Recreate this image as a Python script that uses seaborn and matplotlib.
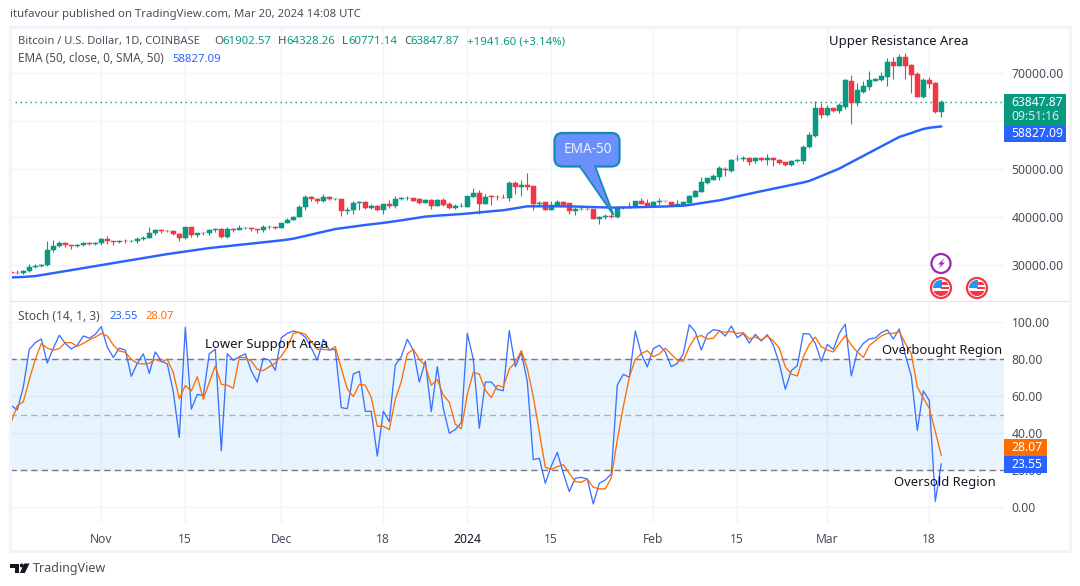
import matplotlib
matplotlib.use("Agg")
import matplotlib.pyplot as plt
import matplotlib.transforms as mtrans
from matplotlib.patches import Rectangle, Circle, Polygon, FancyBboxPatch
import numpy as np
import pandas as pd
import seaborn as sns

opens = [28520,28400,28320,28720,29680,29910,29990,33080,33920,34500,34150,33900,34090,34540,34490,34650,35430,34930,34730,35080,
 34950,35040,35420,35650,36700,37320,37130,37060,36490,35550,37880,36160,36650,36580,37390,37470,35760,37420,37290,37720,
 37790,37450,37240,37830,37900,37720,38690,39460,39970,41980,44080,43770,43290,44180,43720,43790,41240,41450,42880,43100,
 41940,42240,41390,42700,42220,43820,43900,43990,43800,43000,43610,42360,43610,42780,41940,42290,42150,44240,45070,42780,
 44370,44240,44000,43890,47150,46180,46740,46530,42780,43190,41530,42360,43190,42990,41180,41650,41760,41670,39510,40000,
 40140,39930,41900,42010,42010,43400,42990,42360,43120,43330,43190,42500,42570,42990,44240,45280,47150,47780,48260,50000,
 49580,51980,52080,52290,51600,52360,51940,52360,51940,51390,50760,51670,51670,54510,56940,62570,61110,62570,61940,62920,
 68330,63610,65970,66940,68330,68400,69030,72150,71320,73190,71530,69650,65000,68400,67780,61902.57]
highs = [28650,28900,28950,30280,30300,30200,35000,35200,35100,34800,34250,34450,34750,34850,34720,35580,35980,34950,35280,35380,
 35280,35900,35990,37950,37520,37420,37250,37400,36770,37980,37980,36740,36850,37500,37760,37650,37860,37640,38420,37840,
 37830,37580,38380,38420,38150,38840,39700,40200,42400,44490,44290,44050,44700,44370,44050,43800,42100,43430,43420,43250,
 42700,42400,42770,43580,44300,44230,44390,44020,44030,43800,43640,43700,44030,43200,42800,42990,44440,46110,45690,44790,
 44650,44510,44790,47430,47570,47780,49240,46530,43330,43190,43400,43610,43400,42990,42080,42080,41940,41670,40200,40690,
 40560,42360,42360,43060,43400,43960,43820,43290,43850,43400,43190,43610,43330,44650,45700,48400,48200,48900,50500,50320,
 52000,52850,52700,52500,52560,52560,53190,52400,52150,51460,51800,52150,55070,57710,64170,63750,63330,62700,63600,68610,
 69440,67780,68200,70350,68820,70140,72990,73190,73890,74030,71740,70070,68960,69030,68120,64328.26]
lows = [28150,28100,28170,28650,29500,29700,29880,32800,33700,33700,33350,33850,34050,34100,34100,34150,34350,34100,34570,34550,
 34720,34520,35250,35550,36350,36700,36780,36350,35100,35370,35880,35860,36180,36200,36820,35700,35630,36870,37250,37600,
 37150,36720,36880,37600,37500,37620,38650,39280,39970,41420,43400,42820,43080,43600,43560,40230,40680,40630,41450,41660,
 41700,41200,40530,41830,41850,43470,43630,43350,42780,42850,41740,42220,42360,41600,41740,42150,42150,44200,40700,42700,
 42570,43610,43890,43400,44860,44440,45690,41530,42500,41530,41530,42220,42290,40700,40350,41530,41530,39510,38610,39510,
 39720,39790,41600,41870,41800,42700,42360,42220,42530,43120,42290,42360,42500,42990,44100,45200,46950,47700,47700,48470,
 49450,51600,51740,50760,51320,51730,50900,50690,50970,50690,50690,51390,51110,54300,56730,60560,60900,61730,61670,62360,
 59240,63060,65830,66320,68190,68330,67150,68610,71320,68610,65690,64860,64650,66730,61530,60771.14]
closes = [28400,28320,28720,29680,29910,29990,33080,33920,34500,34150,33900,34090,34540,34490,34650,35430,34930,34730,35080,34950,
 35040,35420,35650,36700,37320,37130,37060,36490,35550,37880,36160,36600,36580,37390,37470,35760,37420,37290,37720,37790,
 37450,37240,37830,37850,37720,38690,39460,39970,41980,44080,43770,43290,44180,43720,43790,41240,41450,42880,43020,41940,
 42240,41390,42700,42220,43820,43900,43990,43400,43000,43540,42360,43610,42570,41940,42290,42360,44440,45070,42780,44240,
 44240,44100,43890,47150,46180,46740,46320,42780,42990,41530,42500,43190,42430,41180,41740,41740,41650,39510,40070,40140,
 40050,41940,42010,41920,43330,42780,42360,43120,43260,43230,42500,42710,43190,44370,45420,47360,48060,48470,50100,49780,
 51940,52080,52220,51460,52360,51800,52360,51800,51180,50760,51670,51800,54650,57080,62570,61110,62570,61940,63190,68470,
 63750,66320,67150,68400,68610,69240,72150,71320,73190,71390,69510,65000,68400,67640,61740,63847.87]
ema50 = [27430,27480,27540,27620,27720,27920,28130,28340,28540,28750,28960,29170,29380,29590,29800,30000,30210,30410,30620,30830,
 31040,31250,31450,31660,31870,32080,32290,32470,32650,32830,33010,33190,33360,33540,33670,33810,33940,34070,34210,34340,
 34470,34610,34740,34870,35010,35140,35300,35490,35780,36070,36350,36640,36930,37220,37500,37670,37850,38020,38200,38340,
 38480,38630,38780,38950,39100,39300,39500,39680,39880,40080,40190,40280,40370,40460,40530,40610,40720,40840,40960,41070,
 41190,41300,41400,41610,41830,42040,42220,42230,42240,42250,42240,42230,42220,42210,42180,42140,42100,42050,42000,41970,
 41950,41960,41980,42000,42030,42060,42090,42120,42150,42190,42240,42290,42350,42500,42700,42900,43090,43280,43450,43720,
 44000,44280,44560,44840,45100,45360,45610,45870,46130,46380,46640,46900,47180,47500,48000,48510,49030,49550,50070,50730,
 51390,52040,52700,53360,54010,54670,55330,55990,56640,57050,57450,57900,58300,58550,58700,58827.09]
stoch_k = [55,52.6,65,85.4,89,91,78,86,93,88.6,85.6,87.6,92.6,91.4,93.5,97.7,86.5,81,86,85,
 70.8,77.8,83,72.4,84,79,77.5,62.5,37.8,97.3,53,61,60.5,83,85.4,30.6,83,79.5,81.4,83,
 73.7,67.7,80.5,79.6,74,91.7,94,95.3,94.4,92,86,79.6,90.8,85,85.4,53.9,53.3,72,73.5,51.9,
 51.9,27.7,51.9,46.3,77,81.4,90.8,85,67.7,79,51.7,76,53.5,40,42,45.8,94,80,42.7,67.7,
 67.7,63.8,63,95.5,76,83.6,68,25.8,26.5,13,22.3,29.7,18.4,8.5,15.7,16.2,15.3,1.8,13,14.8,
 18,66,71.9,70.3,95.3,83,75.9,85.8,87.6,84,76,77.8,83,98.7,94.8,85,93.5,96,95.5,92.6,
 98,91.7,93.9,88.8,93.5,89.9,93.3,87.7,77.8,63.8,73.9,76.6,93.9,93.7,88.6,78.9,88,85.4,94,99,
 71,84,88.6,91,91.5,94.4,95.9,91,96.4,82.3,71,41.6,62.9,57.7,3.2,23.55]
stoch_d = [46.3,55,57,69,80,88.5,86,85,85.8,89,89,87,88.6,90.5,92,94,92.6,87.7,84.5,83.8,
 80,77.8,77.5,77.8,80,78.6,80,72.8,58.7,65.8,62.9,70.6,58.4,67.6,76.4,66.5,66,64.3,81,81,
 79,74.6,73.9,76,78,81.8,86.5,94,94.6,93.5,89.5,85.4,85.4,85,86.8,75,64,59.8,66.5,66,
 59.3,43.8,43.8,42,58.4,68,83,85.4,80,76.6,66,69,60.7,56.8,44.9,42.5,61,73,72,63.4,
 59.3,66,64.9,74.8,78.4,84.7,75,59.8,40.9,21.6,20.5,22,23,18.4,13.9,13.5,15.3,10.8,10,9.9,
 16,36.4,54.4,70.3,80,83,84.7,81.4,82.9,86,82.7,79.5,79,86.8,92,92.8,91,91.4,95.3,94.6,
 95,94,94.4,91,92,90.5,92.6,90,86,76,72,71,81.4,88,92,86.8,85,84,88.6,92.8,
 87.7,84,81,87.4,90,92.6,94,94,95,88.6,83,65,59,53.5,41,28.07]
price_ticks = [30000, 40000, 50000, 60000, 70000]
price_tick_labels = ["30000.00", "40000.00", "50000.00", "", "70000.00"]
stoch_ticks = [0, 20, 40, 60, 80, 100]
date_tick_bars = [15, 29, 45, 62, 76, 90, 107, 121, 136, 153]
date_tick_labels = ["Nov", "15", "Dec", "18", "2024", "15", "Feb", "15", "Mar", "18"]

W, H = 1080, 586
GREEN, RED, BLUE, ORANGE = "#089981", "#f23645", "#2962ff", "#ff6d00"
INK, SCALE, GRID = "#131722", "#4a4e5a", "#f0f3fa"
FONT = "Noto Sans"

sns.set_theme(style="white")
plt.rcParams["font.family"] = [FONT, "DejaVu Sans"]
plt.rcParams["axes.unicode_minus"] = False

df = pd.DataFrame({"bar": np.arange(len(closes)), "open": opens, "high": highs, "low": lows,
                   "close": closes, "ema": ema50, "k": stoch_k, "d": stoch_d})
df["colour"] = np.where(df["close"] >= df["open"], GREEN, RED)

fig = plt.figure(figsize=(W / 100, H / 100), dpi=100, facecolor="white")
PX = mtrans.Affine2D().scale(1, -1).translate(0, H)

def axes_px(x0, y0, x1, y1):
    return fig.add_axes([x0 / W, 1 - y1 / H, (x1 - x0) / W, (y1 - y0) / H])

def label(x, y, s, color=SCALE, size=8.2, ha="left", **kw):
    return fig.text(x / W, 1 - y / H, s, color=color, fontsize=size, ha=ha, va="center", **kw)

def add(p):
    p.set_transform(PX)
    fig.add_artist(p)
    return p

XLIM = ((10 - 11.3) / 6, (1004 - 11.3) / 6)
ax = axes_px(10, 28, 1004, 301)
ax2 = axes_px(10, 302, 1004, 522.5)

for a in (ax, ax2):
    a.set_xlim(*XLIM)
    a.set_facecolor("white")
    for s in a.spines.values():
        s.set_visible(False)
    a.yaxis.tick_right()
    a.grid(True, color=GRID, lw=1, zorder=0)
    a.set_axisbelow(True)
    a.set_xticks(date_tick_bars)

# Price pane
ax.set_ylim(70000 - (301 - 72.7) / 48.1 * 10000, 70000 + (72.7 - 28) / 48.1 * 10000)
ax.set_yticks(price_ticks, price_tick_labels)
ax.tick_params(axis="y", length=0, pad=5.5, labelsize=8.8, labelcolor=SCALE)
ax.tick_params(axis="x", length=0, labelbottom=False)
ax.axhline(closes[-1], color=GREEN, lw=1, ls=(0, (1, 2.6)), zorder=1)
ax.vlines(df["bar"], df["low"], df["high"], colors=df["colour"], lw=0.8, zorder=2)
ax.bar(df["bar"], (df["close"] - df["open"]).abs(), bottom=df[["open", "close"]].min(axis=1),
       width=0.76, color=df["colour"], edgecolor=df["colour"], linewidth=0.35, zorder=3)
sns.lineplot(data=df, x="bar", y="ema", ax=ax, color=BLUE, lw=1.75, estimator=None, zorder=4, legend=False)
ax.set_xlabel(""); ax.set_ylabel("")

# Stochastic pane
ax2.set_ylim((507.3 - 522.5) / 1.85, (507.3 - 302) / 1.85)
ax2.set_yticks(stoch_ticks, [f"{v:.2f}" for v in stoch_ticks])
ax2.tick_params(axis="y", length=0, pad=5.5, labelsize=8.8, labelcolor=SCALE)
ax2.set_xticks(date_tick_bars, date_tick_labels)
ax2.tick_params(axis="x", length=0, pad=7.5, labelsize=8.7, labelcolor=SCALE)
for t in ax2.get_xticklabels():
    if t.get_text() == "2024":
        t.set_fontweight("bold")
        t.set_color(INK)
ax2.axhspan(20, 80, color="#2196f3", alpha=0.1, lw=0, zorder=1)
ax2.axhline(80, color="#787b86", lw=1, ls=(0, (4.5, 3)), zorder=2)
ax2.axhline(50, color="#787b86", alpha=0.55, lw=1, ls=(0, (4.5, 3)), zorder=2)
ax2.axhline(20, color="#787b86", lw=1, ls=(0, (4.5, 3)), zorder=2)
sns.lineplot(data=df, x="bar", y="k", ax=ax2, color=BLUE, lw=0.95, estimator=None, zorder=3, legend=False, alpha=0.9)
sns.lineplot(data=df, x="bar", y="d", ax=ax2, color=ORANGE, lw=0.95, estimator=None, zorder=4, legend=False)
ax2.set_xlabel(""); ax2.set_ylabel("")

# Outer frame and pane separator
add(Rectangle((10, 27), 1060, 524, fill=False, edgecolor="#f0f3fa", lw=2.2))
add(Rectangle((10, 301), 1060, 1, facecolor="#e0e3eb", edgecolor="none"))

# Header and legends
label(10, 15, "itufavour published on TradingView.com, Mar 20, 2024 14:08 UTC", size=8.2)
label(18, 41.5, "Bitcoin / U.S. Dollar, 1D, COINBASE", size=8.05)
for x, s, c in [(214.3, "O", SCALE), (222.5, "61902.57", GREEN), (278.3, "H", SCALE), (286, "64328.26", GREEN),
                (341.7, "L", SCALE), (348, "60771.14", GREEN), (404, "C", SCALE), (410.7, "63847.87", GREEN),
                (466.7, "+1941.60 (+3.14%)", GREEN)]:
    label(x, 41.5, s, color=c, size=8.2)
label(18, 59, "EMA (50, close, 0, SMA, 50)", size=8.45)
label(172, 59, "58827.09", color=BLUE, size=8.2)
label(18, 316.5, "Stoch (14, 1, 3)", size=8.6)
label(109, 316.5, "23.55", color=BLUE, size=8.1)
label(145, 316.5, "28.07", color=ORANGE, size=8.1)

# Free text annotations
label(899, 41, "Upper Resistance Area", color=INK, size=9.45, ha="center")
label(266.5, 344.5, "Lower Support Area", color=INK, size=9.45, ha="center")
label(942, 350.5, "Overbought Region", color=INK, size=9.35, ha="center")
label(945, 482.5, "Oversold Region", color=INK, size=9.4, ha="center")

# Price scale tags
add(Rectangle((1004, 94), 61.7, 31.5, facecolor=GREEN, edgecolor="none", zorder=5))
add(Rectangle((1004, 125.5), 61.7, 16.3, facecolor=BLUE, edgecolor="none", zorder=5))
add(Rectangle((1004, 439), 43, 17, facecolor=ORANGE, edgecolor="none", zorder=5))
add(Rectangle((1004, 456), 43, 17, facecolor=BLUE, edgecolor="none", zorder=5))
tag = dict(color="white", size=8.7, zorder=6)
label(1011.5, 102.5, "63847.87", fontweight="bold", **tag)
label(1011.5, 117, "09:51:16", alpha=0.85, **tag)
label(1011.5, 133.5, "58827.09", fontweight="bold", **tag)
label(1011.5, 447.5, "28.07", fontweight="bold", **tag)
label(1011.5, 464.5, "23.55", fontweight="bold", **tag)

# Callout
add(FancyBboxPatch((554.5, 133), 65, 33.5, boxstyle="round,pad=0,rounding_size=8",
                   facecolor="#6a90fc", edgecolor="#1489b5", lw=1.6, zorder=6))
add(Polygon([(579.5, 166), (613.5, 215), (595, 166)], closed=False, facecolor="#6a90fc",
            edgecolor="#1489b5", lw=1.3, zorder=6))
add(Rectangle((581, 163), 13, 4.5, facecolor="#6a90fc", edgecolor="none", zorder=7))
label(587.5, 149.5, "EMA-50", color="#eef2ff", size=9.8, ha="center", zorder=8)

# Event icons
add(Circle((941, 263.5), 9.5, facecolor="white", edgecolor="#9c27b0", lw=1.6, zorder=6))
add(Polygon([(944.5, 258), (938, 264.5), (941.2, 264.5), (938.2, 269), (945, 262.5), (941.8, 262.5)],
            facecolor="#9c27b0", edgecolor="none", zorder=7))
for cx in (941, 977):
    cy = 288
    add(Circle((cx, cy), 10, facecolor="white", edgecolor=RED, lw=1.6, zorder=6))
    clip = add(Circle((cx, cy), 8, facecolor="none", edgecolor="none", zorder=6))
    for rect, col in [(((cx - 8, cy + 2.5), 16, 6), RED), (((cx, cy - 6), 8, 3), RED),
                      (((cx, cy - 1), 8, 2.2), RED), (((cx - 8, cy - 8), 8.5, 8), "#2196f3")]:
        r = add(Rectangle(rect[0], rect[1], rect[2], facecolor=col, edgecolor="none", zorder=7))
        r.set_clip_path(clip)

# Logo
add(Polygon([(10, 563.5), (19, 563.5), (19, 573), (14.5, 573), (14.5, 567.5), (10, 567.5)], facecolor=INK, edgecolor="none"))
add(Circle((21.8, 565.5), 2, facecolor=INK, edgecolor="none"))
add(Polygon([(24.3, 563.5), (29.5, 563.5), (24.8, 573), (19.8, 573)], facecolor=INK, edgecolor="none"))
label(33, 568.5, "TradingView", color=SCALE, size=9.0)

fig.savefig("out.png", dpi=100, facecolor="white")
